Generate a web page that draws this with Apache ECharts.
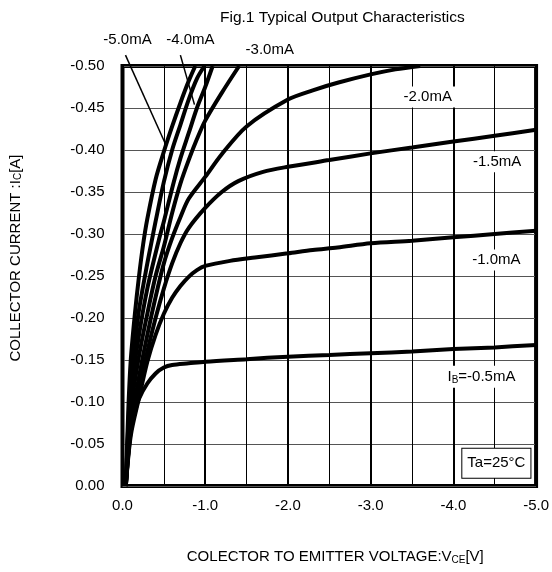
<!DOCTYPE html>
<html>
<head>
<meta charset="utf-8">
<script src="https://cdn.jsdelivr.net/npm/echarts@6/dist/echarts.min.js"></script>
<style>
  html, body { margin: 0; padding: 0; background: #fff; }
  #chart { width: 552px; height: 572px; }
</style>
</head>
<body>
<div id="chart"></div>
<script>
  // Vce [V], Ic [A], one array per base current
  const ib05 = [[-0.04,0],[-0.07,-0.04],[-0.1,-0.065],[-0.15,-0.088],[-0.2,-0.104],[-0.3,-0.122],[-0.4,-0.134],[-0.5,-0.141],[-0.6,-0.144],[-0.8,-0.146],[-1.0,-0.148],[-1.5,-0.151],[-2.0,-0.154],[-2.5,-0.156],[-3.0,-0.158],[-3.5,-0.160],[-4.0,-0.163],[-4.5,-0.165],[-5.0,-0.168]];
  const ib10 = [[-0.04,0],[-0.1,-0.06],[-0.2,-0.105],[-0.3,-0.148],[-0.4,-0.18],[-0.5,-0.205],[-0.6,-0.224],[-0.7,-0.238],[-0.8,-0.249],[-0.9,-0.257],[-1.0,-0.262],[-1.3,-0.268],[-1.6,-0.272],[-2.0,-0.277],[-2.3,-0.281],[-2.6,-0.284],[-3.0,-0.289],[-3.5,-0.292],[-4.0,-0.296],[-4.5,-0.300],[-5.0,-0.304]];
  const ib15 = [[-0.04,0],[-0.1,-0.065],[-0.2,-0.115],[-0.3,-0.16],[-0.4,-0.2],[-0.5,-0.235],[-0.6,-0.265],[-0.7,-0.289],[-0.8,-0.307],[-1.0,-0.331],[-1.2,-0.35],[-1.4,-0.363],[-1.7,-0.374],[-2.0,-0.38],[-2.5,-0.388],[-3.0,-0.396],[-3.5,-0.403],[-4.0,-0.41],[-4.5,-0.417],[-5.0,-0.424]];
  const ib20 = [[-0.04,0],[-0.1,-0.07],[-0.2,-0.13],[-0.3,-0.18],[-0.4,-0.225],[-0.5,-0.265],[-0.6,-0.295],[-0.7,-0.32],[-0.8,-0.342],[-1.0,-0.368],[-1.2,-0.395],[-1.5,-0.428],[-2.0,-0.46],[-2.3,-0.471],[-2.6,-0.48],[-3.0,-0.49],[-3.3,-0.496],[-3.6,-0.5]];
  const ib30 = [[-0.04,0],[-0.1,-0.09],[-0.2,-0.155],[-0.3,-0.205],[-0.4,-0.25],[-0.5,-0.285],[-0.6,-0.325],[-0.7,-0.36],[-0.8,-0.388],[-0.9,-0.413],[-1.0,-0.435],[-1.2,-0.468],[-1.41,-0.5]];
  const ib35 = [[-0.04,0],[-0.1,-0.11],[-0.2,-0.18],[-0.3,-0.235],[-0.44,-0.293],[-0.5,-0.315],[-0.62,-0.362],[-0.7,-0.39],[-0.8,-0.42],[-0.9,-0.45],[-1.0,-0.475],[-1.09,-0.5]];
  const ib40 = [[-0.04,0],[-0.1,-0.13],[-0.15,-0.17],[-0.2,-0.21],[-0.3,-0.265],[-0.35,-0.29],[-0.4,-0.315],[-0.5,-0.362],[-0.6,-0.40],[-0.7,-0.43],[-0.8,-0.46],[-0.9,-0.485],[-0.99,-0.5]];
  const ib50 = [[-0.04,0],[-0.07,-0.09],[-0.1,-0.15],[-0.15,-0.205],[-0.2,-0.25],[-0.25,-0.288],[-0.3,-0.318],[-0.4,-0.365],[-0.5,-0.398],[-0.6,-0.428],[-0.7,-0.456],[-0.8,-0.482],[-0.88,-0.5]];

  const curves = [ib05, ib10, ib15, ib20, ib30, ib35, ib40, ib50];
  const curveNames = ['-0.5mA', '-1.0mA', '-1.5mA', '-2.0mA', '-3.0mA', '-3.5mA', '-4.0mA', '-5.0mA'];

  // curve labels, placed in data coordinates [Vce, Ic]
  const labelText = ['-5.0mA', '-4.0mA', '-3.0mA', '-2.0mA', '-1.5mA', '-1.0mA', 'I{sub|B}=-0.5mA'];
  const labelPos = [[-0.06,-0.531],[-0.82,-0.531],[-1.78,-0.519],[-3.69,-0.463],[-4.53,-0.386],[-4.52,-0.269],[-4.34,-0.130]];
  const labelBg = [false, false, false, true, true, true, true];
  // leader lines: from label to curve
  const leaders = [[[-0.036,-0.513],[-0.525,-0.406]], [[-0.70,-0.513],[-0.87,-0.454]]];
  const tempNote = 'Ta=25°C';
  const tempPos = [-4.52,-0.027];

  const font = '"Liberation Sans", Arial, sans-serif';
  const chart = echarts.init(document.getElementById('chart'));

  const option = {
    animation: false,
    title: {
      text: 'Fig.1 Typical Output Characteristics',
      left: 215,
      top: 5,
      textStyle: { fontFamily: font, fontSize: 15.5, fontWeight: 'normal', color: '#000' }
    },
    grid: {
      left: 119, right: 14, top: 66, bottom: 86,
      show: true, borderColor: '#000', borderWidth: 4, backgroundColor: '#fff'
    },
    xAxis: {
      type: 'value',
      min: -5, max: 0, interval: 1, inverse: true,
      name: 'COLECTOR TO EMITTER VOLTAGE:V{sub|CE}[V]',
      nameLocation: 'middle',
      nameGap: 63,
      nameTextStyle: {
        fontFamily: font, fontSize: 15, color: '#000', padding: [0, 0, 0, 12],
        rich: { sub: { fontFamily: font, fontSize: 10, color: '#000', padding: [6, 0, 0, 0] } }
      },
      axisLine: { show: false },
      axisTick: { show: false },
      axisLabel: {
        fontFamily: font, fontSize: 15, color: '#000', margin: 12,
        formatter: v => v.toFixed(1)
      },
      splitLine: { show: true, lineStyle: { color: '#000', width: 2 } },
      minorTick: { show: false, splitNumber: 2 },
      minorSplitLine: { show: true, lineStyle: { color: '#000', width: 1 } }
    },
    yAxis: {
      type: 'value',
      min: -0.5, max: 0, interval: 0.05, inverse: true,
      name: 'COLLECTOR CURRENT :I{sub|C}[A]',
      nameLocation: 'middle',
      nameGap: 99,
      nameTextStyle: {
        fontFamily: font, fontSize: 15, color: '#000', padding: [0, 0, 0, 36],
        rich: { sub: { fontFamily: font, fontSize: 10, color: '#000', padding: [6, 0, 0, 0] } }
      },
      axisLine: { show: false },
      axisTick: { show: false },
      axisLabel: {
        fontFamily: font, fontSize: 15, color: '#000', margin: 18,
        formatter: v => v.toFixed(2)
      },
      splitLine: { show: true, lineStyle: { color: '#555', width: 1 } }
    },
    series: curves.map((c, i) => ({
      name: curveNames[i],
      type: 'line',
      data: c,
      smooth: 0.3,
      showSymbol: false,
      lineStyle: { color: '#000', width: 4 },
      z: 3
    }))
  };
  chart.setOption(option);

  // annotations via data -> pixel conversion
  const px = p => chart.convertToPixel({ gridIndex: 0 }, p);
  const graphics = [];
  leaders.forEach(l => {
    const a = px(l[0]), b = px(l[1]);
    graphics.push({
      type: 'line', z: 10,
      shape: { x1: a[0], y1: a[1], x2: b[0], y2: b[1] },
      style: { stroke: '#000', lineWidth: 1.5 }
    });
  });
  labelText.forEach((t, i) => {
    const p = px(labelPos[i]);
    graphics.push({
      type: 'text', z: 11, x: p[0], y: p[1],
      style: {
        text: t, fill: '#000', font: '15px ' + font,
        align: 'center', verticalAlign: 'middle',
        backgroundColor: labelBg[i] ? '#fff' : 'transparent',
        padding: [3, 5],
        rich: { sub: { fontFamily: font, fontSize: 10, fill: '#000', padding: [6, 0, 0, 0] } }
      }
    });
  });
  const tp = px(tempPos);
  graphics.push({
    type: 'text', z: 11, x: tp[0], y: tp[1],
    style: {
      text: tempNote, fill: '#000', font: '15px ' + font,
      align: 'center', verticalAlign: 'middle',
      backgroundColor: '#fff', borderColor: '#000', borderWidth: 1,
      padding: [7, 5]
    }
  });
  chart.setOption({ graphic: graphics });
</script>
</body>
</html>
